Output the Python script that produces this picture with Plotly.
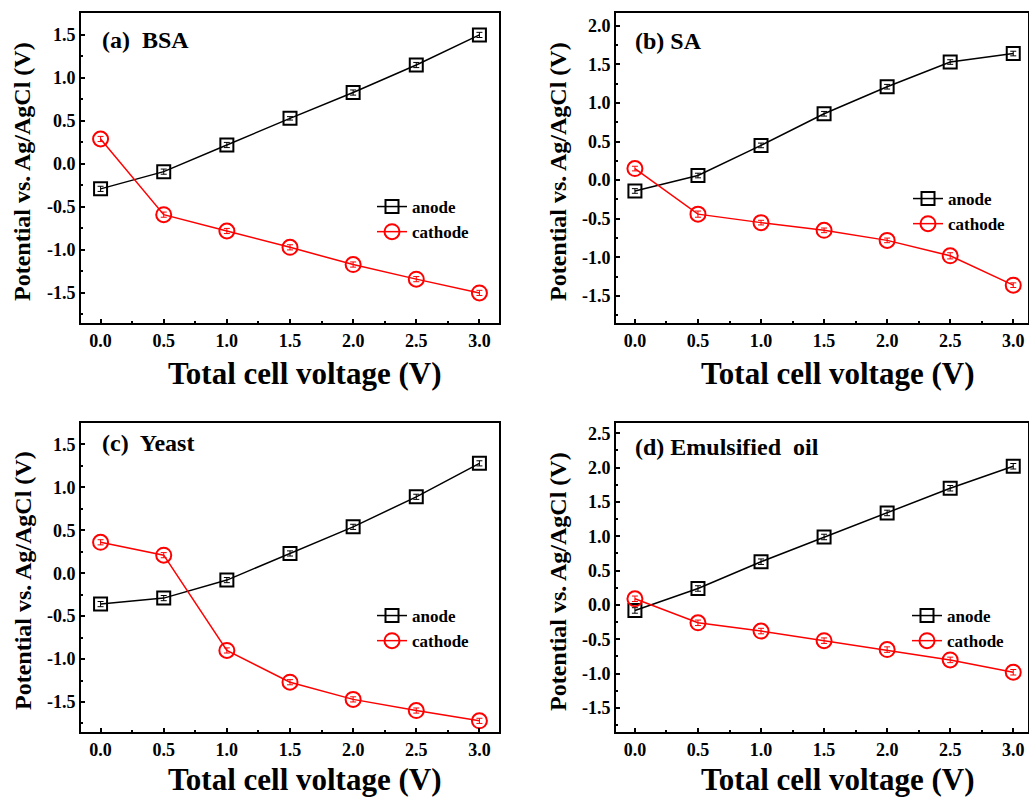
import plotly.graph_objects as go

# ---------------- data ----------------
voltage = [0.0, 0.5, 1.0, 1.5, 2.0, 2.5, 3.0]

bsa_anode = [-0.29, -0.09, 0.22, 0.53, 0.83, 1.15, 1.50]
bsa_cathode = [0.29, -0.59, -0.78, -0.97, -1.17, -1.34, -1.50]
bsa_anode_err = [0.03, 0.03, 0.03, 0.02, 0.03, 0.03, 0.03]
bsa_cathode_err = [0.03, 0.03, 0.03, 0.03, 0.03, 0.03, 0.03]

sa_anode = [-0.14, 0.06, 0.45, 0.86, 1.21, 1.53, 1.64]
sa_cathode = [0.15, -0.44, -0.55, -0.65, -0.78, -0.98, -1.36]
sa_anode_err = [0.03, 0.03, 0.03, 0.03, 0.03, 0.03, 0.03]
sa_cathode_err = [0.03, 0.04, 0.03, 0.03, 0.03, 0.04, 0.03]

yeast_anode = [-0.36, -0.29, -0.08, 0.23, 0.54, 0.89, 1.28]
yeast_cathode = [0.36, 0.21, -0.90, -1.27, -1.47, -1.60, -1.72]
yeast_anode_err = [0.03, 0.03, 0.03, 0.03, 0.03, 0.03, 0.03]
yeast_cathode_err = [0.03, 0.03, 0.03, 0.03, 0.03, 0.03, 0.03]

oil_anode = [-0.08, 0.24, 0.63, 0.99, 1.34, 1.70, 2.02]
oil_cathode = [0.09, -0.26, -0.38, -0.52, -0.65, -0.80, -0.98]
oil_anode_err = [0.04, 0.04, 0.04, 0.04, 0.04, 0.04, 0.04]
oil_cathode_err = [0.04, 0.04, 0.04, 0.04, 0.04, 0.04, 0.04]

panel_labels = ["(a)\u00a0 BSA", "(b) SA", "(c)\u00a0 Yeast", "(d) Emulsified\u00a0 oil"]
series_names = ["anode", "cathode"]
x_title = "Total cell voltage (V)"
y_title = "Potential vs. Ag/AgCl (V)"

x_tickvals = [0.0, 0.5, 1.0, 1.5, 2.0, 2.5, 3.0]
x_ticktext = ["0.0", "0.5", "1.0", "1.5", "2.0", "2.5", "3.0"]
y_tickvals_a = [-1.5, -1.0, -0.5, 0.0, 0.5, 1.0, 1.5]
y_ticktext_a = ["-1.5", "-1.0", "-0.5", "0.0", "0.5", "1.0", "1.5"]
y_tickvals_b = [-1.5, -1.0, -0.5, 0.0, 0.5, 1.0, 1.5, 2.0]
y_ticktext_b = ["-1.5", "-1.0", "-0.5", "0.0", "0.5", "1.0", "1.5", "2.0"]
y_tickvals_d = [-1.5, -1.0, -0.5, 0.0, 0.5, 1.0, 1.5, 2.0, 2.5]
y_ticktext_d = ["-1.5", "-1.0", "-0.5", "0.0", "0.5", "1.0", "1.5", "2.0", "2.5"]

# ---------------- layout helpers ----------------
W, H = 1029, 798
FONT = "Liberation Serif"


def px(x):
    return x / W


def py(y):
    return 1 - y / H


def bold(s):
    return f"<b>{s}</b>"


panels = [
    dict(anode=bsa_anode, cathode=bsa_cathode, ae=bsa_anode_err, ce=bsa_cathode_err,
         xdom=[px(81), px(499)], ydom=[py(323), py(13)], xr=[-0.155, 3.155], yr=[-1.85, 1.755],
         yt=(y_tickvals_a, y_ticktext_a), label_xy=(100, 40), ytitle_xy=(22, 172), xtitle_xy=(305, 373),
         leg_xy=(372, 189)),
    dict(anode=sa_anode, cathode=sa_cathode, ae=sa_anode_err, ce=sa_cathode_err,
         xdom=[px(616), px(1028)], ydom=[py(323), py(13)], xr=[-0.15, 3.117], yr=[-1.85, 2.165],
         yt=(y_tickvals_b, y_ticktext_b), label_xy=(633, 41), ytitle_xy=(558, 172), xtitle_xy=(838, 373),
         leg_xy=(908, 181)),
    dict(anode=yeast_anode, cathode=yeast_cathode, ae=yeast_anode_err, ce=yeast_cathode_err,
         xdom=[px(81), px(499)], ydom=[py(732), py(423)], xr=[-0.155, 3.155], yr=[-1.85, 1.75],
         yt=(y_tickvals_a, y_ticktext_a), label_xy=(100, 443), ytitle_xy=(23, 581), xtitle_xy=(305, 779),
         leg_xy=(372, 598)),
    dict(anode=oil_anode, cathode=oil_cathode, ae=oil_anode_err, ce=oil_cathode_err,
         xdom=[px(616), px(1028)], ydom=[py(732), py(423)], xr=[-0.15, 3.117], yr=[-1.85, 2.65],
         yt=(y_tickvals_d, y_ticktext_d), label_xy=(633, 447), ytitle_xy=(558, 582), xtitle_xy=(838, 779),
         leg_xy=(907, 598)),
]

fig = go.Figure()
annotations = []
layout_extra = {}

for i, p in enumerate(panels):
    n = i + 1
    xa = "x" if n == 1 else f"x{n}"
    ya = "y" if n == 1 else f"y{n}"
    leg = "legend" if n == 1 else f"legend{n}"

    fig.add_trace(go.Scatter(
        x=voltage, y=p["anode"], name=bold(series_names[0]), xaxis=xa, yaxis=ya, legend=leg,
        mode="lines+markers",
        line=dict(color="black", width=1.5),
        marker=dict(symbol="square-open", size=13, color="black", line=dict(width=2, color="black")),
        error_y=dict(type="data", array=p["ae"], visible=True, color="black", thickness=1, width=3),
    ))
    fig.add_trace(go.Scatter(
        x=voltage, y=p["cathode"], name=bold(series_names[1]), xaxis=xa, yaxis=ya, legend=leg,
        mode="lines+markers",
        line=dict(color="#ff0000", width=1.5),
        marker=dict(symbol="circle-open", size=15, color="#ff0000", line=dict(width=2, color="#ff0000")),
        error_y=dict(type="data", array=p["ce"], visible=True, color="#ff0000", thickness=1, width=3),
    ))

    axis_common = dict(
        showline=True, linewidth=2, linecolor="black", mirror=True,
        ticks="inside", ticklen=4, tickwidth=1.5, tickcolor="black",
        showgrid=False, zeroline=False,
        tickfont=dict(family=FONT, size=18, color="black"),
        minor=dict(ticks="inside", ticklen=2, tickwidth=1.5, tickcolor="black", dtick=0.25, tick0=0, showgrid=False),
    )
    layout_extra["xaxis" if n == 1 else f"xaxis{n}"] = dict(
        axis_common, domain=p["xdom"], range=p["xr"], anchor=ya,
        tickmode="array", tickvals=x_tickvals, ticktext=[bold(t) for t in x_ticktext],
    )
    layout_extra["yaxis" if n == 1 else f"yaxis{n}"] = dict(
        axis_common, domain=p["ydom"], range=p["yr"], anchor=xa,
        tickmode="array", tickvals=p["yt"][0], ticktext=[bold(t) for t in p["yt"][1]],
    )
    layout_extra[leg] = dict(
        x=px(p["leg_xy"][0]), y=py(p["leg_xy"][1]), xanchor="left", yanchor="top",
        bgcolor="rgba(0,0,0,0)", borderwidth=0, tracegroupgap=0,
        font=dict(family=FONT, size=17, color="black"),
    )

    annotations.append(dict(
        text=bold(panel_labels[i]), x=px(p["label_xy"][0]), y=py(p["label_xy"][1]),
        xref="paper", yref="paper", xanchor="left", yanchor="middle", showarrow=False,
        font=dict(family=FONT, size=24, color="black"),
    ))
    annotations.append(dict(
        text=bold(y_title), x=px(p["ytitle_xy"][0]), y=py(p["ytitle_xy"][1]),
        xref="paper", yref="paper", xanchor="center", yanchor="middle", showarrow=False, textangle=-90,
        font=dict(family=FONT, size=24, color="black"),
    ))
    annotations.append(dict(
        text=bold(x_title), x=px(p["xtitle_xy"][0]), y=py(p["xtitle_xy"][1]),
        xref="paper", yref="paper", xanchor="center", yanchor="middle", showarrow=False,
        font=dict(family=FONT, size=31, color="black"),
    ))

fig.update_layout(
    width=W, height=H,
    margin=dict(l=0, r=0, t=0, b=0),
    paper_bgcolor="white", plot_bgcolor="white",
    annotations=annotations,
    **layout_extra,
)

fig.write_html("out.html")
